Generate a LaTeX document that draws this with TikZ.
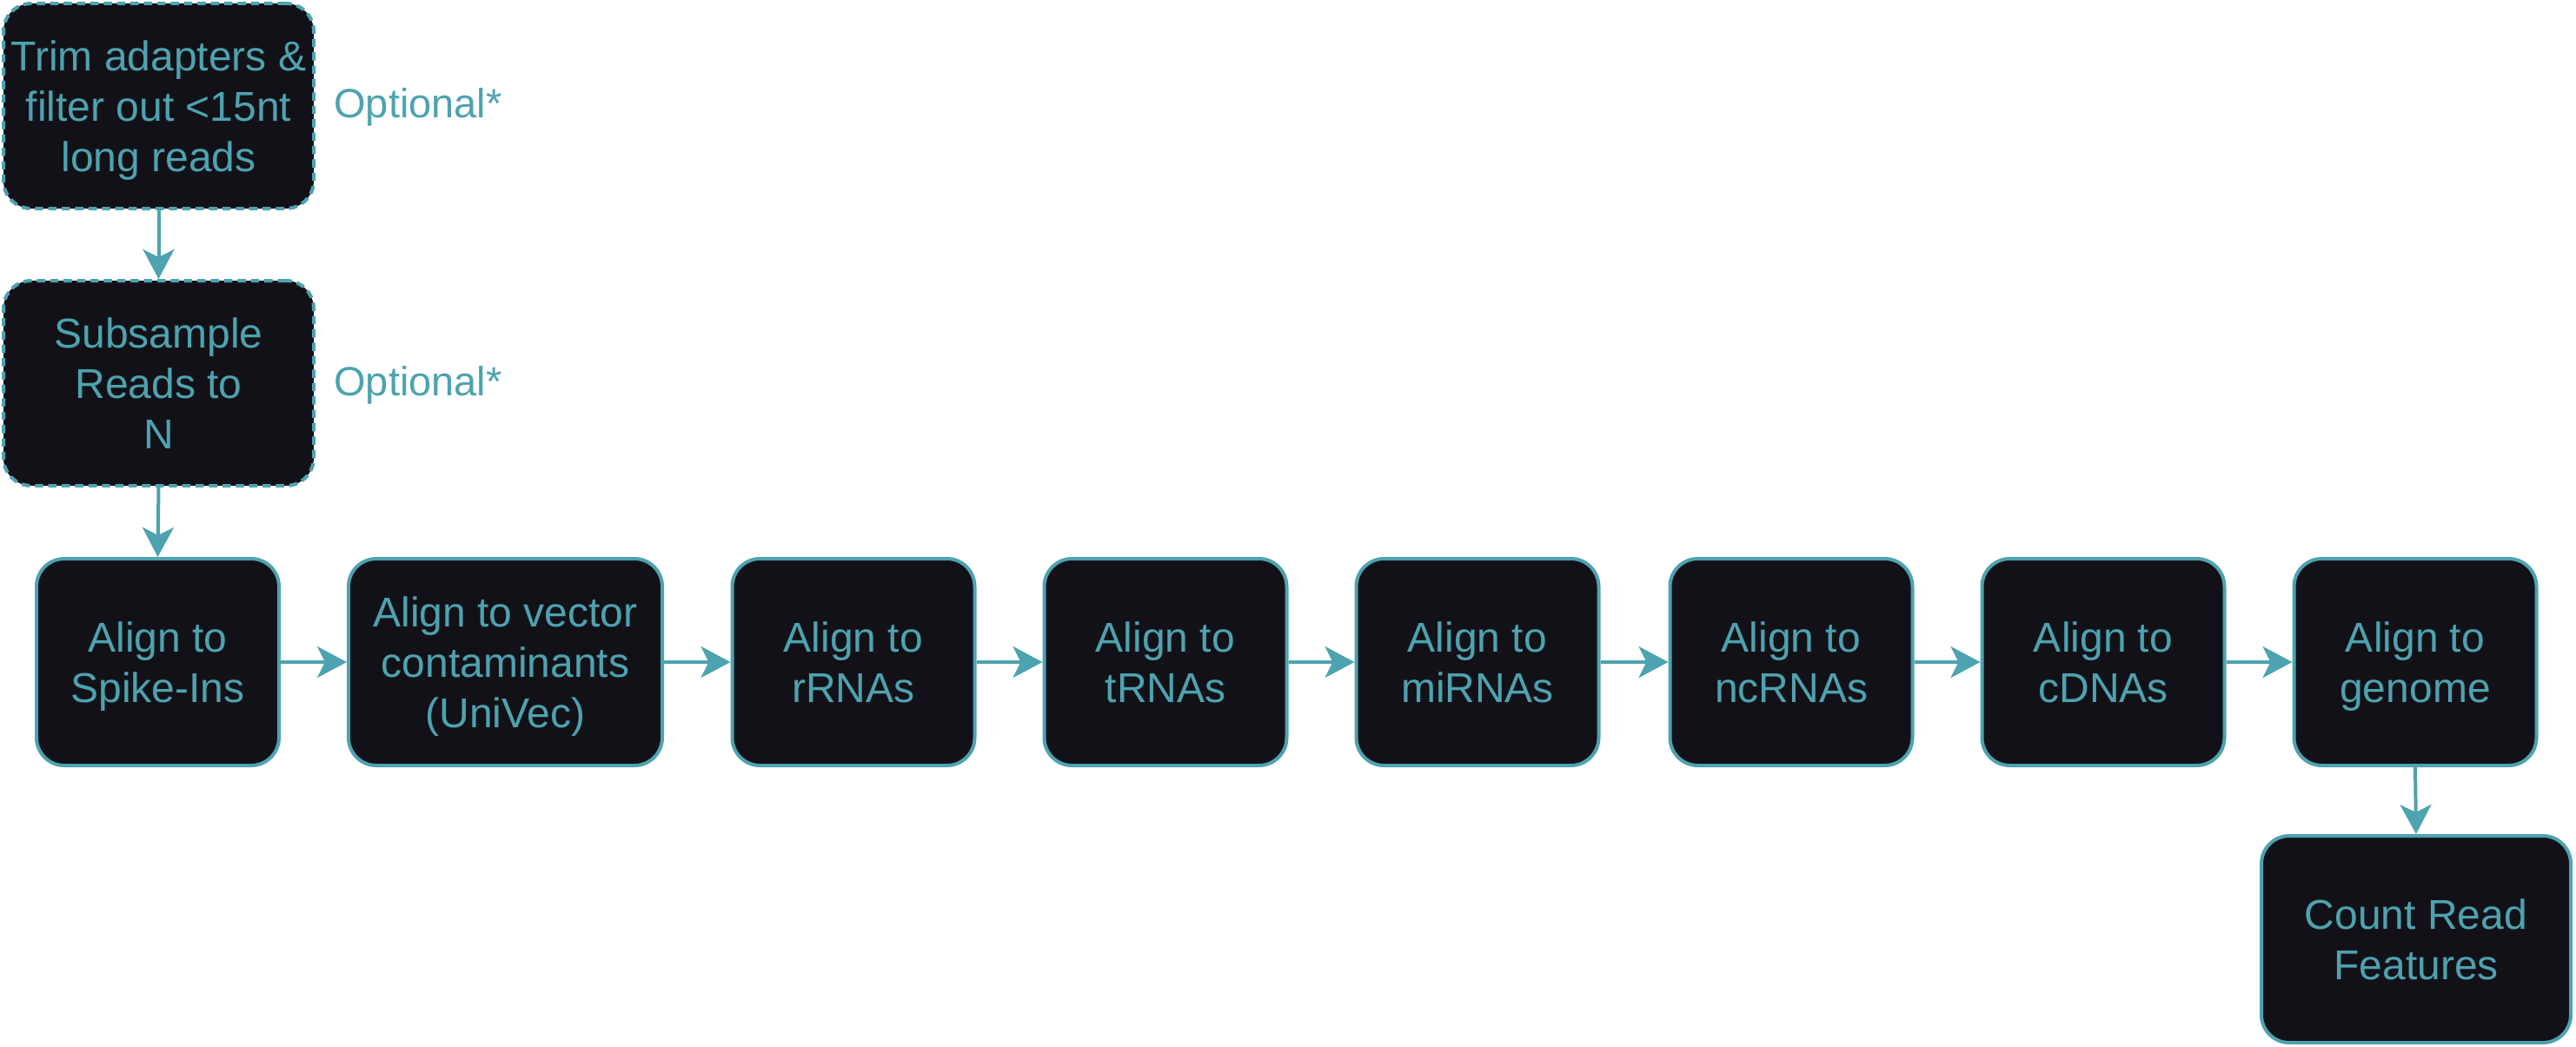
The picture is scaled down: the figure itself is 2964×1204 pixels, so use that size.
\documentclass[tikz,border=0pt]{standalone}
\usepackage{fontspec}
\setmainfont{Liberation Sans}
\usetikzlibrary{arrows.meta}
\definecolor{teal}{HTML}{4DA3AF}
\definecolor{boxfill}{HTML}{131118}
\tikzset{
  x=0.5pt, y=-0.5pt,
  stepbox/.style={draw=teal, fill=boxfill, line width=2pt, rounded corners=16pt,
    text=teal, align=center, inner sep=0pt, text depth=0pt,
    font=\fontsize{24pt}{29pt}\selectfont},
  optbox/.style={stepbox, dash pattern=on 4.7pt off 3pt},
  rowbox/.style={stepbox, minimum width=139.5pt, minimum height=119pt},
  note/.style={text=teal, anchor=base west, inner sep=0pt,
    font=\fontsize{23.5pt}{29pt}\selectfont},
  flow/.style={draw=teal, line width=2pt,
    -{Stealth[length=17pt,width=18pt,inset=4.5pt]}}
}
\begin{document}
\begin{tikzpicture}
\useasboundingbox (0,0) rectangle (2964,1204);
\node[optbox, minimum width=178.5pt, minimum height=118pt] (trim) at (182.5,122)
  {Trim adapters \&\\filter out <15nt\\long reads};
\node[optbox, minimum width=178.5pt, minimum height=118pt] (sub) at (182.5,441)
  {Subsample\\Reads to\\N};
\node[note] (opt1) at (384,135) {Optional*};
\node[note] (opt2) at (384,455) {Optional*};

\node[rowbox] (spike) at (181.5,762) {Align to\\Spike-Ins};
\node[rowbox, minimum width=180.5pt] (vec) at (581.5,762) {Align to vector\\contaminants\\(UniVec)};
\node[rowbox] (rrna) at (982,762) {Align to\\rRNAs};
\node[rowbox] (trna) at (1341,762) {Align to\\tRNAs};
\node[rowbox] (mirna) at (1700,762) {Align to\\miRNAs};
\node[rowbox] (ncrna) at (2061,762) {Align to\\ncRNAs};
\node[rowbox] (cdna) at (2420,762) {Align to\\cDNAs};
\node[rowbox] (genome) at (2779,762) {Align to\\genome};
\node[rowbox, minimum width=178pt] (count) at (2780,1081) {Count Read\\Features};

\draw[flow] (trim.south) -- (sub.north);
\draw[flow] (sub.south) -- (spike.north);
\draw[flow] (spike.east) -- (vec.west);
\draw[flow] (vec.east) -- (rrna.west);
\draw[flow] (rrna.east) -- (trna.west);
\draw[flow] (trna.east) -- (mirna.west);
\draw[flow] (mirna.east) -- (ncrna.west);
\draw[flow] (ncrna.east) -- (cdna.west);
\draw[flow] (cdna.east) -- (genome.west);
\draw[flow] (genome.south) -- (count.north);
\end{tikzpicture}
\end{document}
